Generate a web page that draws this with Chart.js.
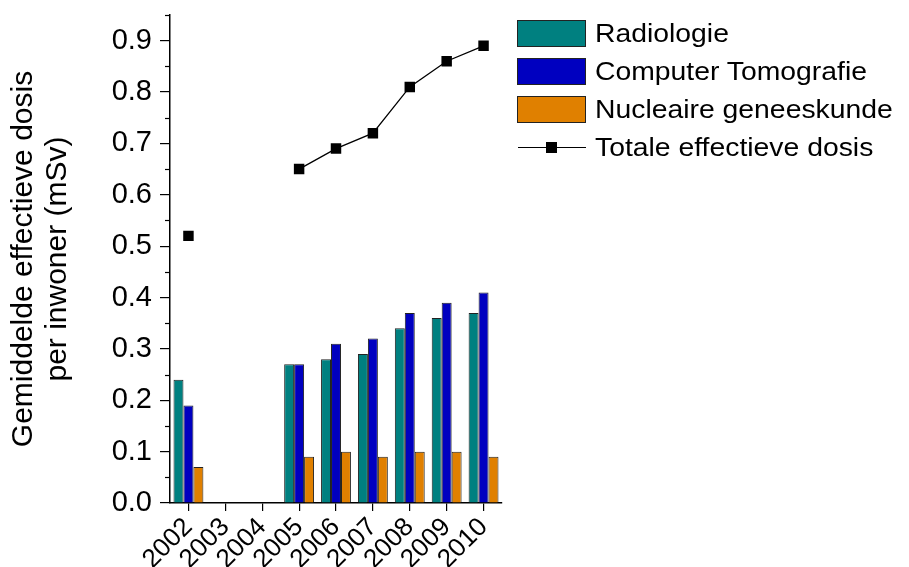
<!DOCTYPE html>
<html>
<head>
<meta charset="utf-8">
<script src="https://cdn.jsdelivr.net/npm/chart.js@4.4.1/dist/chart.umd.min.js"></script>
<style>
  html, body { margin: 0; padding: 0; background: #ffffff; }
  #wrap { position: relative; width: 909px; height: 567px; overflow: hidden; }
  #c { position: absolute; left: 0; top: 0; }
  .leg { position: absolute; left: 517px; height: 27px; }
  .leg .sw { position: absolute; left: 0; top: 0; width: 67px; height: 25px; border: 1px solid #222; }
  .leg .ln { position: absolute; left: 1px; top: 0; width: 68px; height: 27px; }
  .leg .tx { position: absolute; left: 78px; top: 0; height: 27px; line-height: 27px; white-space: nowrap;
             font-family: 'Liberation Sans', Arial, sans-serif; font-size: 26px; color: #000;
             transform: scaleX(1.09); transform-origin: 0 50%; }
</style>
</head>
<body>
<div id="wrap">
  <canvas id="c" width="909" height="567"></canvas>
  <div id="legend"></div>
</div>
<script>
const categories = ['2002', '2003', '2004', '2005', '2006', '2007', '2008', '2009', '2010'];
const radiologie = [0.24, null, null, 0.27, 0.28, 0.29, 0.34, 0.36, 0.37];
const computerTomografie = [0.19, null, null, 0.27, 0.31, 0.32, 0.37, 0.39, 0.41];
const nucleaireGeneeskunde = [0.07, null, null, 0.09, 0.10, 0.09, 0.10, 0.10, 0.09];
const totaleDosis = [0.52, null, null, 0.65, 0.69, 0.72, 0.81, 0.86, 0.89];
const yTickValues = [0.0, 0.1, 0.2, 0.3, 0.4, 0.5, 0.6, 0.7, 0.8, 0.9];
const yMinorValues = [0.05, 0.15, 0.25, 0.35, 0.45, 0.55, 0.65, 0.75, 0.85, 0.95];
const seriesNames = ['Radiologie', 'Computer Tomografie', 'Nucleaire geneeskunde', 'Totale effectieve dosis'];

const colors = ['#008080', '#0000C0', '#E08000'];
const FONT = "'Liberation Sans', Arial, sans-serif";

// HTML legend
const legendEl = document.getElementById('legend');
const legendTops = [20, 58, 96, 134];
seriesNames.forEach((name, i) => {
  const row = document.createElement('div');
  row.className = 'leg';
  row.style.top = legendTops[i] + 'px';
  if (i < 3) {
    const sw = document.createElement('div');
    sw.className = 'sw';
    sw.style.background = colors[i];
    row.appendChild(sw);
  } else {
    const cv = document.createElement('canvas');
    cv.className = 'ln';
    cv.width = 68; cv.height = 27;
    const g = cv.getContext('2d');
    g.strokeStyle = '#000';
    g.lineWidth = 1.2;
    g.beginPath(); g.moveTo(0, 13.5); g.lineTo(68, 13.5); g.stroke();
    g.fillStyle = '#000';
    g.fillRect(28, 8, 11, 11);
    row.appendChild(cv);
  }
  const tx = document.createElement('div');
  tx.className = 'tx';
  tx.textContent = name;
  row.appendChild(tx);
  legendEl.appendChild(row);
});

const minorTicks = {
  id: 'minorTicks',
  afterDraw(chart) {
    const y = chart.scales.y;
    const ctx = chart.ctx;
    ctx.save();
    ctx.strokeStyle = '#000';
    ctx.lineWidth = 1.2;
    yMinorValues.forEach(v => {
      const py = Math.round(y.getPixelForValue(v)) + 0.5;
      ctx.beginPath();
      ctx.moveTo(y.right - 5, py);
      ctx.lineTo(y.right, py);
      ctx.stroke();
    });
    ctx.restore();
  }
};

new Chart(document.getElementById('c'), {
  type: 'bar',
  data: {
    labels: categories,
    datasets: [
      { label: seriesNames[0], data: radiologie, backgroundColor: colors[0], borderColor: '#222', borderWidth: 1 },
      { label: seriesNames[1], data: computerTomografie, backgroundColor: colors[1], borderColor: '#222', borderWidth: 1 },
      { label: seriesNames[2], data: nucleaireGeneeskunde, backgroundColor: colors[2], borderColor: '#222', borderWidth: 1 },
      { type: 'line', label: seriesNames[3], data: totaleDosis, borderColor: '#000', backgroundColor: '#000',
        borderWidth: 1.3, pointStyle: 'rect', pointRadius: 7.4, pointBorderWidth: 0, spanGaps: false, tension: 0 }
    ]
  },
  options: {
    responsive: false,
    animation: false,
    devicePixelRatio: 1,
    layout: { padding: { left: 0, top: 15, right: 407, bottom: 0 } },
    datasets: { bar: { categoryPercentage: 0.81, barPercentage: 1.0 } },
    plugins: {
      tooltip: { enabled: false },
      legend: { display: false }
    },
    scales: {
      x: {
        offset: true,
        afterFit(scale) { scale.height = 64; scale.paddingLeft = 0; scale.paddingRight = 0; },
        grid: { display: true, offset: false, drawOnChartArea: false, drawTicks: true, tickLength: 8, color: '#000', lineWidth: 1.2 },
        border: { display: true, color: '#000', width: 1.5 },
        ticks: { color: '#000', font: { family: FONT, size: 26, lineHeight: 1.3 }, minRotation: 45, maxRotation: 45, padding: 0, autoSkip: false }
      },
      y: {
        min: 0,
        max: 0.95,
        afterBuildTicks(scale) {
          scale.ticks = yTickValues.map(v => ({ value: v }));
        },
        afterFit(scale) { scale.width = 170; scale.paddingTop = 0; scale.paddingBottom = 0; },
        grid: { display: true, drawOnChartArea: false, drawTicks: true, tickLength: 10, color: '#000', lineWidth: 1.2 },
        border: { display: true, color: '#000', width: 1.5 },
        ticks: { color: '#000', font: { family: FONT, size: 29 }, padding: 8,
          callback: (v) => Number(v).toFixed(1) },
        title: {
          display: true,
          text: ['Gemiddelde effectieve dosis', 'per inwoner (mSv)'],
          color: '#000',
          font: { family: FONT, size: 30, lineHeight: 1.15 },
          padding: { top: 6, bottom: 30 }
        }
      }
    }
  },
  plugins: [minorTicks]
});
</script>
</body>
</html>
